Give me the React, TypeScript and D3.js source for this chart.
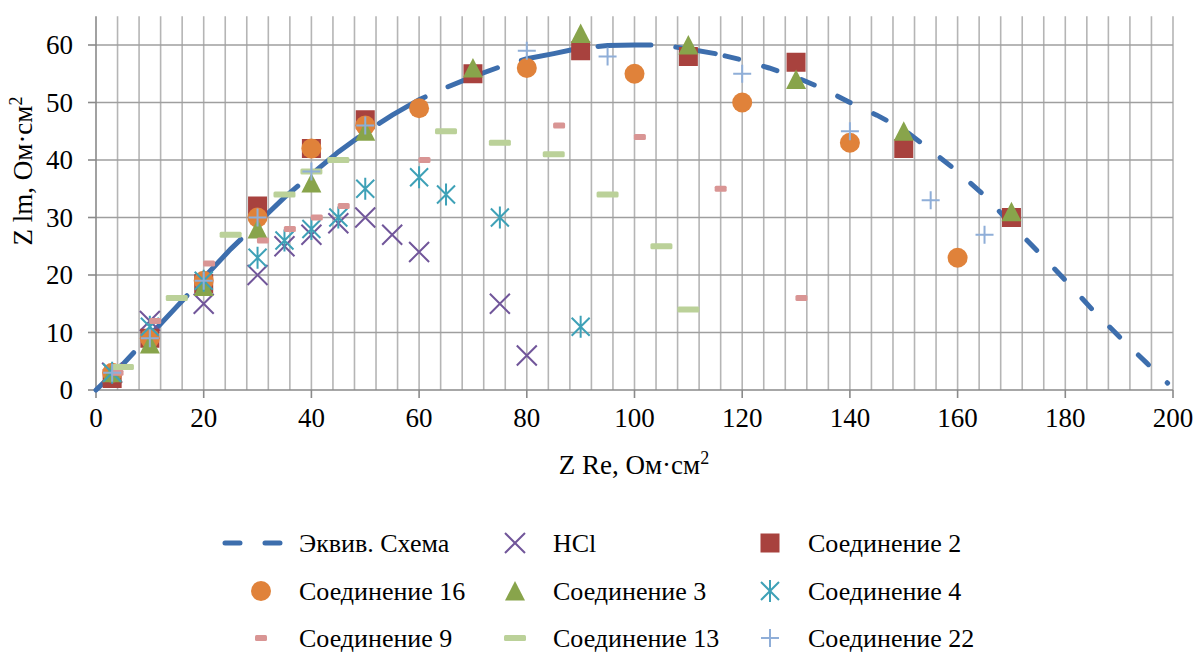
import React from 'react';
import * as d3 from 'd3';

// equivalent circuit curve
const circuitX = [0, 5, 10, 15, 20, 25, 30, 35, 40, 45, 50, 55, 60, 65, 70, 75, 80, 85, 90, 95, 100, 105, 110, 115, 120, 125, 130, 135, 140, 145, 150, 155, 160, 165, 170, 175, 180, 185, 190, 195, 199];
const circuitY = [0, 4.5, 9.5, 14.5, 19.5, 24.5, 29, 33.5, 37.5, 41.4, 44.8, 47.8, 50.5, 52.6, 54.5, 56.2, 57.6, 58.5, 59.5, 59.9, 60, 60, 59.3, 58.5, 57.4, 56, 54.4, 52.4, 50, 47.8, 45.3, 41.7, 38, 33.8, 28.8, 24, 19.1, 14, 9.3, 4.8, 1.2];

const hclX = [3, 10, 20, 30, 35, 40, 45, 50, 55, 60, 75, 80];
const hclY = [3, 12, 15, 20, 25, 27, 29, 30, 27, 24, 15, 6];

const c2X = [3, 10, 20, 30, 40, 50, 70, 90, 110, 130, 150, 170];
const c2Y = [2, 9, 18.5, 32, 42, 47, 55, 59, 58, 57, 42, 30];

const c16X = [3, 10, 20, 30, 40, 50, 60, 80, 100, 120, 140, 160];
const c16Y = [3, 9, 19, 30, 42, 46, 49, 56, 55, 50, 43, 23];

const c3X = [3, 10, 20, 30, 40, 50, 70, 90, 110, 130, 150, 170];
const c3Y = [3, 8, 18, 28, 36, 45, 56, 62, 60, 54, 45, 31];

const c4X = [3, 10, 20, 30, 35, 40, 45, 50, 60, 65, 75, 90];
const c4Y = [3, 11, 19, 23, 26, 28, 30, 35, 37, 34, 30, 11];

const c9X = [4, 11, 21, 31, 36, 41, 46, 61, 86, 101, 116, 131];
const c9Y = [3, 12, 22, 26, 28, 30, 32, 40, 46, 44, 35, 16];

const c13X = [5, 15, 25, 35, 40, 45, 65, 75, 85, 95, 105, 110];
const c13Y = [4, 16, 27, 34, 38, 40, 45, 43, 41, 34, 25, 14];

const c22X = [3, 10, 20, 30, 40, 50, 80, 95, 120, 140, 155, 165];
const c22Y = [3, 9, 19, 30, 38, 46, 59, 58, 55, 45, 33, 27];

const xTicks = [0, 20, 40, 60, 80, 100, 120, 140, 160, 180, 200];
const yTicks = [0, 10, 20, 30, 40, 50, 60];

const FONT = '"Liberation Serif", "Times New Roman", serif';
const W = 1196;
const H = 655;

const x = d3.scaleLinear().domain([0, 200]).range([96, 1173]);
const y = d3.scaleLinear().domain([0, 65]).range([390, 16.25]);

const COL = {
  line: '#3D6EAD',
  hcl: '#71569A',
  c2: '#A8423E',
  c16: '#E0823A',
  c3: '#88A44B',
  c4: '#3EA1B7',
  c9: '#D99594',
  c13: '#BBD199',
  c22: '#8FAED8',
};

type Shape = 'x' | 'square' | 'circle' | 'triangle' | 'asterisk' | 'dashS' | 'dashL' | 'plus';

function Marker({ shape, cx, cy }: { shape: Shape; cx: number; cy: number }) {
  switch (shape) {
    case 'x':
      return (
        <path d={`M${cx - 10},${cy - 10}L${cx + 10},${cy + 10}M${cx - 10},${cy + 10}L${cx + 10},${cy - 10}`}
          stroke={COL.hcl} strokeWidth={2} />
      );
    case 'square':
      return <rect x={cx - 9.5} y={cy - 9.5} width={19} height={19} fill={COL.c2} />;
    case 'circle':
      return <circle cx={cx} cy={cy} r={10} fill={COL.c16} />;
    case 'triangle':
      return <path d={`M${cx},${cy - 10}L${cx + 10},${cy + 9.5}L${cx - 10},${cy + 9.5}Z`} fill={COL.c3} />;
    case 'asterisk':
      return (
        <path d={`M${cx - 9},${cy - 9}L${cx + 9},${cy + 9}M${cx - 9},${cy + 9}L${cx + 9},${cy - 9}M${cx},${cy - 11}L${cx},${cy + 11}`}
          stroke={COL.c4} strokeWidth={2} />
      );
    case 'dashS':
      return <rect x={cx - 6} y={cy - 3} width={12} height={6} rx={1.5} fill={COL.c9} />;
    case 'dashL':
      return <rect x={cx - 11} y={cy - 3} width={22} height={6} rx={1.5} fill={COL.c13} />;
    case 'plus':
      return (
        <path d={`M${cx - 9},${cy}L${cx + 9},${cy}M${cx},${cy - 9}L${cx},${cy + 9}`}
          stroke={COL.c22} strokeWidth={2} />
      );
  }
  return null;
}

const series: { name: string; shape: Shape; xs: number[]; ys: number[] }[] = [
  { name: 'HCl', shape: 'x', xs: hclX, ys: hclY },
  { name: 'Соединение 2', shape: 'square', xs: c2X, ys: c2Y },
  { name: 'Соединение 16', shape: 'circle', xs: c16X, ys: c16Y },
  { name: 'Соединение 3', shape: 'triangle', xs: c3X, ys: c3Y },
  { name: 'Соединение 4', shape: 'asterisk', xs: c4X, ys: c4Y },
  { name: 'Соединение 9', shape: 'dashS', xs: c9X, ys: c9Y },
  { name: 'Соединение 13', shape: 'dashL', xs: c13X, ys: c13Y },
  { name: 'Соединение 22', shape: 'plus', xs: c22X, ys: c22Y },
];

// legend grid: 3 columns x 3 rows
const legendOrder = ['Эквив. Схема', 'HCl', 'Соединение 2', 'Соединение 16', 'Соединение 3', 'Соединение 4', 'Соединение 9', 'Соединение 13', 'Соединение 22'];
const legendColX = [261, 515, 770];
const legendRowY = [543, 591, 638];

export default function App() {
  const line = d3.line<number>().x((d) => x(circuitX[d])).y((d) => y(circuitY[d]));
  const idx = circuitX.map((_, i) => i);
  const splitAt = circuitX.indexOf(115);
  const riseIdx = idx.slice(0, splitAt + 1);
  const fallIdx = idx.slice(splitAt);

  const minorX = d3.range(4, 201, 4);

  return (
    <svg width={W} height={H} style={{ position: 'absolute', left: 0, top: 0, background: '#fff' }}>
      <rect width={W} height={H} fill="#fff" />
      {/* vertical grid */}
      {minorX.map((v) => (
        <line key={'vx' + v} x1={x(v)} x2={x(v)} y1={y(65)} y2={y(0)} stroke="#b5b5b5" strokeWidth={1.6} />
      ))}
      {/* horizontal grid */}
      {yTicks.filter((v) => v > 0).map((v) => (
        <line key={'hy' + v} x1={x(0)} x2={x(200)} y1={y(v)} y2={y(v)} stroke="#9f9f9f" strokeWidth={1.6} />
      ))}
      {/* axes */}
      <line x1={x(0)} x2={x(0)} y1={y(65)} y2={y(0)} stroke="#8a8a8a" strokeWidth={1.6} />
      <line x1={x(0)} x2={x(200)} y1={y(0)} y2={y(0)} stroke="#8a8a8a" strokeWidth={1.6} />
      {yTicks.map((v) => (
        <line key={'yt' + v} x1={x(0) - 8} x2={x(0)} y1={y(v)} y2={y(v)} stroke="#8a8a8a" strokeWidth={1.6} />
      ))}
      {xTicks.map((v) => (
        <line key={'xt' + v} x1={x(v)} x2={x(v)} y1={y(0)} y2={y(0) + 8} stroke="#8a8a8a" strokeWidth={1.6} />
      ))}
      {yTicks.map((v) => (
        <text key={'yl' + v} x={73} y={y(v) + 9} textAnchor="end" fontFamily={FONT} fontSize={27} fill="#000">
          {v}
        </text>
      ))}
      {xTicks.map((v) => (
        <text key={'xl' + v} x={x(v)} y={427} textAnchor="middle" fontFamily={FONT} fontSize={27} fill="#000">
          {v}
        </text>
      ))}
      <text x={634} y={474} textAnchor="middle" fontFamily={FONT} fontSize={27} fill="#000">
        Z Re, Ом·см<tspan dy={-10} fontSize={18}>2</tspan>
      </text>
      <text transform="translate(32,171) rotate(-90)" textAnchor="middle" fontFamily={FONT} fontSize={27} fill="#000">
        Z lm, Ом·см<tspan dy={-10} fontSize={18}>2</tspan>
      </text>

      {/* equivalent circuit */}
      <path d={line(riseIdx) || ''} fill="none" stroke={COL.line} strokeWidth={5} strokeLinecap="round" strokeDasharray="53 25" />
      <path d={line(fallIdx) || ''} fill="none" stroke={COL.line} strokeWidth={5} strokeLinecap="round" strokeDasharray="14 26" strokeDashoffset={-10} />

      {/* markers */}
      {series.map((s) => (
        <g key={s.name}>
          {s.xs.map((v, i) => (
            <Marker key={i} shape={s.shape} cx={x(v)} cy={y(s.ys[i])} />
          ))}
        </g>
      ))}

      {/* legend */}
      {legendOrder.map((name, i) => {
        const cx = legendColX[i % 3];
        const cy = legendRowY[Math.floor(i / 3)];
        const s = series.find((d) => d.name === name);
        return (
          <g key={'lg' + name}>
            {s ? (
              <Marker shape={s.shape} cx={cx} cy={cy} />
            ) : (
              <path d={`M${cx - 36},${cy}L${cx + 21},${cy}`} stroke={COL.line} strokeWidth={5} strokeLinecap="round" strokeDasharray="15 25" />
            )}
            <text x={cx + 38} y={cy + 9} fontFamily={FONT} fontSize={26} fill="#000">
              {name}
            </text>
          </g>
        );
      })}
    </svg>
  );
}
